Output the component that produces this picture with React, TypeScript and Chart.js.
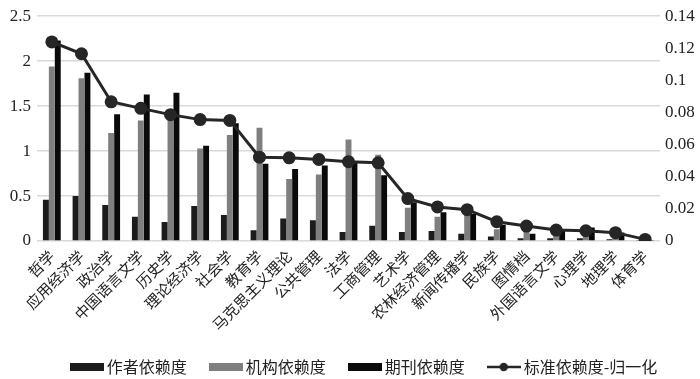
import React, { useEffect, useRef } from 'react';
import { Chart, registerables } from 'chart.js';

Chart.register(...registerables);

const categories = [
  '哲学', '应用经济学', '政治学', '中国语言文学', '历史学', '理论经济学', '社会学',
  '教育学', '马克思主义理论', '公共管理', '法学', '工商管理', '艺术学', '农林经济管理',
  '新闻传播学', '民族学', '图情档', '外国语言文学', '心理学', '地理学', '体育学',
];

const authorDep = [0.46, 0.5, 0.4, 0.27, 0.21, 0.39, 0.29, 0.12, 0.25, 0.23, 0.1, 0.17, 0.1, 0.11, 0.08, 0.05, 0.03, 0.03, 0.03, 0.02, 0.01];
const instDep = [1.94, 1.81, 1.2, 1.34, 1.4, 1.03, 1.18, 1.26, 0.69, 0.74, 1.13, 0.96, 0.37, 0.27, 0.31, 0.13, 0.13, 0.08, 0.08, 0.06, 0.01];
const journalDep = [2.23, 1.87, 1.41, 1.63, 1.65, 1.06, 1.31, 0.86, 0.8, 0.84, 0.87, 0.73, 0.43, 0.32, 0.3, 0.18, 0.08, 0.11, 0.15, 0.095, 0.01];
const normDep = [0.124, 0.1166, 0.0867, 0.0826, 0.0787, 0.0756, 0.0751, 0.0522, 0.0518, 0.0508, 0.0494, 0.0487, 0.0264, 0.0212, 0.0195, 0.012, 0.0093, 0.0068, 0.0064, 0.0052, 0.001];

const leftTickLabels = ['0', '0.5', '1', '1.5', '2', '2.5'];
const rightTickLabels = ['0', '0.02', '0.04', '0.06', '0.08', '0.1', '0.12', '0.14'];

const seriesNames = ['作者依赖度', '机构依赖度', '期刊依赖度', '标准依赖度-归一化'];

const CJK = '"Noto Sans CJK SC", "Noto Sans", sans-serif';
const SERIF = '"Liberation Serif", "DejaVu Serif", serif';
const C_AUTHOR = '#1c1c1c';
const C_INST = '#7f7f7f';
const C_JOURNAL = '#0a0a0a';
const C_LINE = '#262626';

function rectImg(color: string) {
  const c = document.createElement('canvas');
  c.width = 34;
  c.height = 8;
  const x = c.getContext('2d')!;
  x.fillStyle = color;
  x.fillRect(0, 0, 34, 8);
  return c;
}

function lineImg(color: string) {
  const c = document.createElement('canvas');
  c.width = 34;
  c.height = 10;
  const x = c.getContext('2d')!;
  x.strokeStyle = color;
  x.lineWidth = 2.5;
  x.beginPath();
  x.moveTo(0, 5);
  x.lineTo(34, 5);
  x.stroke();
  x.fillStyle = color;
  x.beginPath();
  x.arc(17, 5, 4.2, 0, Math.PI * 2);
  x.fill();
  return c;
}

const shiftLegend = {
  id: 'shiftLegend',
  afterLayout(chart: any) {
    const l = chart.legend;
    if (l) {
      l.left += 16;
      l.right += 16;
    }
  },
};

export default function App() {
  const ref = useRef<HTMLCanvasElement>(null);

  useEffect(() => {
    document.body.style.margin = '0';
    const imgs = [rectImg(C_AUTHOR), rectImg(C_INST), rectImg(C_JOURNAL), lineImg(C_LINE)];
    const chart = new Chart(ref.current!, {
      type: 'bar',
      plugins: [shiftLegend],
      data: {
        labels: categories,
        datasets: [
          { type: 'bar', label: seriesNames[0], data: authorDep, backgroundColor: C_AUTHOR, yAxisID: 'y', order: 1, barPercentage: 1, categoryPercentage: 0.6 },
          { type: 'bar', label: seriesNames[1], data: instDep, backgroundColor: C_INST, yAxisID: 'y', order: 1, barPercentage: 1, categoryPercentage: 0.6 },
          { type: 'bar', label: seriesNames[2], data: journalDep, backgroundColor: C_JOURNAL, yAxisID: 'y', order: 1, barPercentage: 1, categoryPercentage: 0.6 },
          {
            type: 'line', label: seriesNames[3], data: normDep, yAxisID: 'y1', order: 0,
            borderColor: C_LINE, backgroundColor: C_LINE, borderWidth: 3,
            pointRadius: 5, pointBackgroundColor: C_LINE, pointBorderColor: C_LINE, tension: 0,
          },
        ] as any,
      },
      options: {
        animation: false,
        responsive: false,
        maintainAspectRatio: false,
        layout: { padding: { top: 6, left: 0, right: 0, bottom: -6 } },
        plugins: {
          tooltip: { enabled: false },
          legend: {
            position: 'bottom',
            labels: {
              usePointStyle: true,
              pointStyleWidth: 24,
              boxHeight: 12,
              padding: 27,
              color: '#222',
              font: { size: 16, family: CJK },
              generateLabels: () =>
                seriesNames.map((n, i) => ({
                  text: n,
                  pointStyle: imgs[i] as any,
                  fillStyle: 'transparent',
                  strokeStyle: 'transparent',
                  lineWidth: 0,
                  hidden: false,
                  datasetIndex: i,
                  fontColor: '#222',
                })),
            },
          },
        },
        scales: {
          x: {
            grid: { display: false, drawTicks: false },
            border: { display: false },
            ticks: {
              minRotation: 45, maxRotation: 45, autoSkip: false,
              color: '#222', padding: 6,
              font: { size: 15, family: CJK },
            },
            afterFit: (s: any) => { s.height = 91; },
          },
          y: {
            position: 'left', min: 0, max: 2.5,
            grid: { color: '#d9d9d9', lineWidth: 1.5, drawTicks: false },
            border: { display: false },
            ticks: {
              stepSize: 0.5, color: '#222', padding: 6,
              font: { size: 17, family: SERIF },
              callback: (_v: any, i: number) => leftTickLabels[i],
            },
            afterFit: (s: any) => { s.width = 37; },
          },
          y1: {
            position: 'right', min: 0, max: 0.14,
            grid: { display: false, drawTicks: false },
            border: { display: false },
            ticks: {
              stepSize: 0.02, color: '#222', padding: 5,
              font: { size: 17, family: SERIF },
              callback: (_v: any, i: number) => rightTickLabels[i],
            },
            afterFit: (s: any) => { s.width = 40; },
          },
        },
      },
    });
    return () => chart.destroy();
  }, []);

  return (
    <div style={{ width: 700, height: 379 }}>
      <canvas ref={ref} width={700} height={379} style={{ display: 'block' }} />
    </div>
  );
}
